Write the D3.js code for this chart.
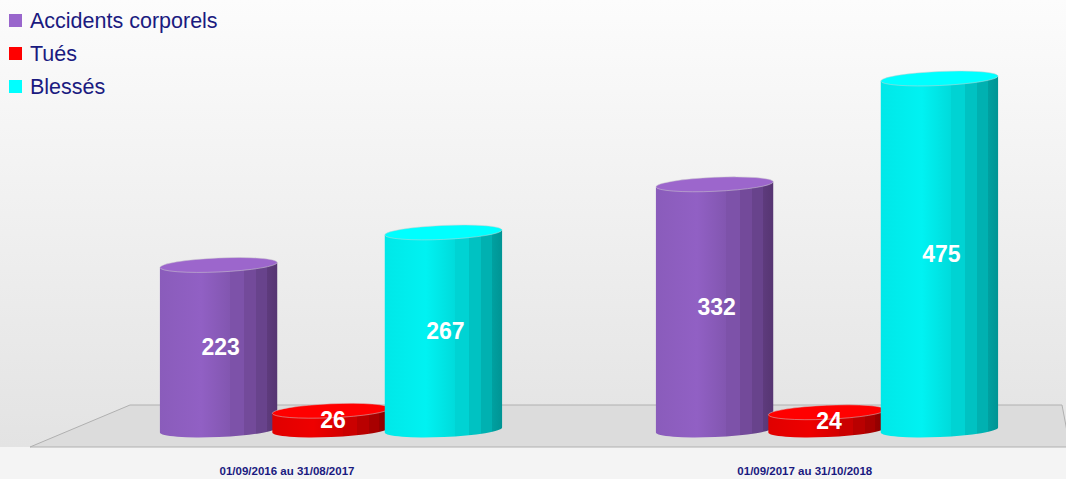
<!DOCTYPE html>
<html>
<head>
<meta charset="utf-8">
<script src="https://cdn.jsdelivr.net/npm/d3@7"></script>
<style>
  body { margin: 0; background: #f4f4f4; }
  svg { display: block; font-family: "Liberation Sans", Arial, sans-serif; }
</style>
</head>
<body>
<div id="chart"></div>
<script>
//// data
var periods = ["01/09/2016 au 31/08/2017", "01/09/2017 au 31/10/2018"];
var series = ["Accidents corporels", "Tués", "Blessés"];
var accidents = [223, 332];
var tues = [26, 24];
var blesses = [267, 475];

//// colours: [light, base, dark, top]
var colors = {
  "Accidents corporels": ["#9160c4", "#8a5cbb", "#563572", "#9c66cc"],
  "Tués": ["#ee0000", "#e00000", "#8a0000", "#ff0000"],
  "Blessés": ["#00f2f2", "#00e8e8", "#009494", "#00ffff"]
};
var legendColors = ["#9966cc", "#ff0000", "#00ffff"];

//// chart
var width = 1066, height = 479;
var baseY = 430, tilt = -2.5, ry = 7;

var svg = d3.select("#chart").append("svg")
    .attr("width", width)
    .attr("height", height);

var defs = svg.append("defs");

// background
var bg = defs.append("linearGradient").attr("id", "bg")
    .attr("x1", 0).attr("y1", 0).attr("x2", 0).attr("y2", 1);
bg.append("stop").attr("offset", "0%").attr("stop-color", "#fcfcfc");
bg.append("stop").attr("offset", "100%").attr("stop-color", "#e3e3e3");
svg.append("rect").attr("width", width).attr("height", height).attr("fill", "#f4f4f4");
svg.append("rect").attr("width", width).attr("height", 447).attr("fill", "url(#bg)");

// floor
svg.append("path")
    .attr("d", "M30,447 L130,405 L1062,405 L1070,447 Z")
    .attr("fill", "#dcdcdc")
    .attr("stroke", "#b0b0b0")
    .attr("stroke-width", 1);

// gradients for the cylinder bodies (stepped shading)
series.forEach(function(s, i) {
  var c = colors[s];
  var g = defs.append("linearGradient").attr("id", "cyl" + i)
      .attr("x1", 0).attr("y1", 0).attr("x2", 1).attr("y2", 0);
  var mix = d3.interpolateRgb(c[1], c[2]);
  var stops = [[0, c[1]], [0.35, c[0]], [0.6, mix(0.15)], [0.6, mix(0.25)], [0.72, mix(0.25)],
               [0.72, mix(0.45)], [0.82, mix(0.45)], [0.82, mix(0.65)], [0.91, mix(0.65)],
               [0.91, mix(0.85)], [1, c[2]]];
  stops.forEach(function(st) {
    g.append("stop").attr("offset", st[0]).attr("stop-color", st[1]);
  });
});

//// scales
var x0 = d3.scaleBand()
    .domain(periods)
    .range([83, 1075])
    .paddingInner(0.32)
    .paddingOuter(0.16);

var x1 = d3.scaleBand()
    .domain(series)
    .range([0, x0.bandwidth()]);

var y = d3.scaleLinear()
    .domain([0, 500])
    .range([baseY, 60]);

var rows = [];
periods.forEach(function(p, j) {
  [accidents[j], tues[j], blesses[j]].forEach(function(v, i) {
    rows.push({period: p, serie: series[i], idx: i, value: v});
  });
});

var a = tilt * Math.PI / 180;
function pts(cx, cy, rx) {
  return {
    lx: cx - rx * Math.cos(a), ly: cy - rx * Math.sin(a),
    rx: cx + rx * Math.cos(a), ry: cy + rx * Math.sin(a)
  };
}

var cyl = svg.selectAll(".cyl")
    .data(rows)
  .enter().append("g")
    .attr("class", "cyl");

cyl.each(function(d) {
  var g = d3.select(this);
  var w = x1.bandwidth();
  var cx = x0(d.period) + x1(d.serie) + w / 2;
  var rx = w / 2 + 2.5;
  var top = y(d.value);
  var t = pts(cx, top, rx), b = pts(cx, baseY, rx);

  g.append("path")
    .attr("d", "M" + t.lx + "," + t.ly + " L" + b.lx + "," + b.ly +
               " A" + rx + "," + ry + " " + tilt + " 0 0 " + b.rx + "," + b.ry +
               " L" + t.rx + "," + t.ry + " Z")
    .attr("fill", "url(#cyl" + d.idx + ")");

  g.append("ellipse")
    .attr("cx", cx).attr("cy", top)
    .attr("rx", rx).attr("ry", ry)
    .attr("transform", "rotate(" + tilt + "," + cx + "," + top + ")")
    .attr("fill", colors[d.serie][3])
    .attr("stroke", "#d0d0d0")
    .attr("stroke-width", 0.5);

  g.append("text")
    .attr("x", cx + 2)
    .attr("y", (top + baseY) / 2 + 8)
    .attr("text-anchor", "middle")
    .attr("fill", "#ffffff")
    .attr("font-weight", "bold")
    .attr("font-size", 23)
    .text(d.value);
});

//// category labels (shifted a little for the perspective of the floor)
var x00 = x0(periods[0]);
svg.selectAll(".cat")
    .data(periods)
  .enter().append("text")
    .attr("class", "cat")
    .attr("x", function(d) { return x0(d) + x0.bandwidth() / 2 - 44 + (x0(d) - x00) * 0.044; })
    .attr("y", 475)
    .attr("text-anchor", "middle")
    .attr("fill", "#1a1a80")
    .attr("font-weight", "bold")
    .attr("font-size", 11.5)
    .text(function(d) { return d; });

//// legend
var legend = svg.selectAll(".leg")
    .data(series)
  .enter().append("g")
    .attr("class", "leg")
    .attr("transform", function(d, i) { return "translate(9," + (14 + i * 33) + ")"; });

legend.append("rect")
    .attr("width", 13).attr("height", 13)
    .attr("fill", function(d, i) { return legendColors[i]; });

legend.append("text")
    .attr("x", 21)
    .attr("y", 14)
    .attr("fill", "#1a1a80")
    .attr("font-size", 21.5)
    .text(function(d) { return d; });
</script>
</body>
</html>
